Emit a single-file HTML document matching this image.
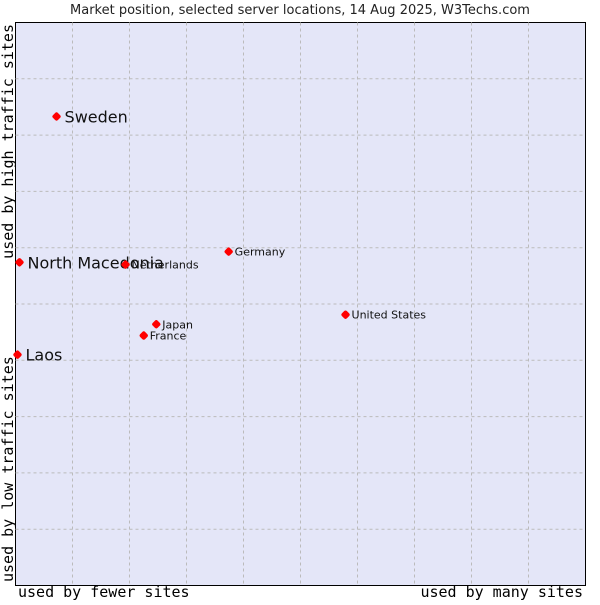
<!DOCTYPE html>
<html><head><meta charset="utf-8"><style>
body{margin:0;background:#fff;}
svg text{font-family:"DejaVu Sans","Liberation Sans",sans-serif;}
</style></head><body>
<svg id="chart" width="600" height="600" xmlns="http://www.w3.org/2000/svg">
<text x="300" y="14" text-anchor="middle" font-size="13" fill="#222">Market position, selected server locations, 14 Aug 2025, W3Techs.com</text>
<rect x="15.5" y="22.5" width="570" height="563" fill="#e4e6f8" stroke="#000" stroke-width="1"/>
<g id="grid"></g>
<g id="points"></g>
<text x="18" y="597" font-size="15" fill="#000" style="font-family:'DejaVu Sans Mono','Liberation Mono',monospace">used by fewer sites</text>
<text x="583" y="597" text-anchor="end" font-size="15" fill="#000" style="font-family:'DejaVu Sans Mono','Liberation Mono',monospace">used by many sites</text>
<text transform="translate(13,582) rotate(-90)" font-size="15" fill="#000" style="font-family:'DejaVu Sans Mono','Liberation Mono',monospace">used by low traffic sites</text>
<text transform="translate(13,24) rotate(-90)" text-anchor="end" font-size="15" fill="#000" style="font-family:'DejaVu Sans Mono','Liberation Mono',monospace">used by high traffic sites</text>
</svg>
<script>
const names = ["Sweden","North Macedonia","Netherlands","Germany","United States","Japan","France","Laos"];
const xVals = [7.2,0.7,19.3,37.4,57.9,24.7,22.5,0.35];
const yVals = [83.3,57.4,57.0,59.3,48.1,46.4,44.4,41.0];
const big = [true,true,false,false,false,false,false,true];
const X0=15.5,X1=585.5,Y0=585.5,Y1=22.5;
const sx=v=>X0+(X1-X0)*v/100, sy=v=>Y0-(Y0-Y1)*v/100;
const ns="http://www.w3.org/2000/svg";
const grid=document.getElementById('grid');
for(let i=1;i<10;i++){
  let l=document.createElementNS(ns,'line');
  
  
  l.setAttribute('x1',sx(i*10));l.setAttribute('x2',sx(i*10));l.setAttribute('y1',Y1);l.setAttribute('y2',Y0);
  l.setAttribute('stroke','#bbb');l.setAttribute('stroke-dasharray','3,3');grid.appendChild(l);
  let h=document.createElementNS(ns,'line');
  
  
  h.setAttribute('y1',sy(i*10));h.setAttribute('y2',sy(i*10));h.setAttribute('x1',X0);h.setAttribute('x2',X1);
  h.setAttribute('stroke','#bbb');h.setAttribute('stroke-dasharray','3,3');grid.appendChild(h);
}
const pts=document.getElementById('points');
names.forEach((n,i)=>{
  const x=sx(xVals[i]),y=sy(yVals[i]);
  let d=document.createElementNS(ns,'rect');
  
  
  d.setAttribute('x',x-3.5);d.setAttribute('y',y-3.5);d.setAttribute('width',7);d.setAttribute('height',7);
  d.setAttribute('rx',2);d.setAttribute('fill','#ff0000');
  d.setAttribute('transform','rotate(45 '+x+' '+y+')');
  pts.appendChild(d);
  let t=document.createElementNS(ns,'text');
  
  
  t.setAttribute('x',x+(big[i]?8:6));t.setAttribute('y',y+(big[i]?6:4));
  t.setAttribute('font-size',big[i]?16:11);t.setAttribute('fill','#111');
  t.textContent=n;pts.appendChild(t);
});
</script>
</body></html>
